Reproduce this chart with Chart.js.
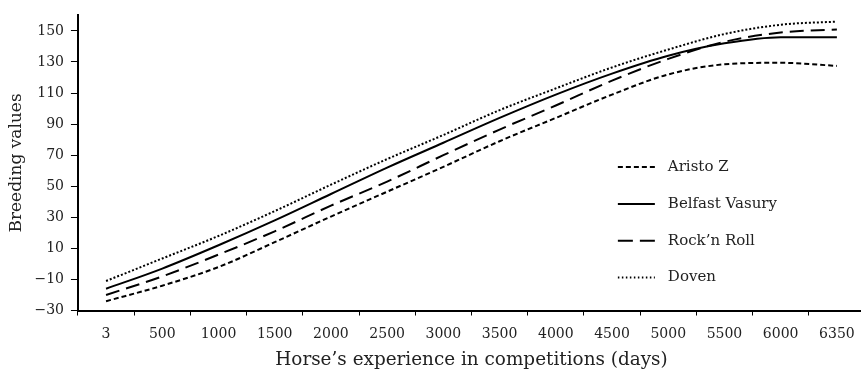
<!DOCTYPE html>
<html>
<head>
<meta charset="utf-8">
<script src="https://cdn.jsdelivr.net/npm/chart.js@4.4.0/dist/chart.umd.min.js"></script>
<style>
  html, body { margin: 0; padding: 0; background: #fff; overflow: hidden; }
</style>
</head>
<body>
<canvas id="breedingChart" width="866" height="372"></canvas>
<script>
// Horse's experience (days) on the x axis
const days = ['3', '500', '1000', '1500', '2000', '2500', '3000', '3500',
  '4000', '4500', '5000', '5500', '6000', '6350'];

// Breeding values per stallion
const aristoZ = [-24, -14, -2, 14, 30.5, 46.5, 62.5, 79, 94, 109, 122, 128.5, 129.5, 127.5];
const belfastVasury = [-16, -3, 12, 28, 45, 62, 78, 94, 109, 122.5, 134, 142, 146, 146];
const rocknRoll = [-20, -8, 6, 21, 37.5, 53, 70, 86.5, 102, 118, 132, 143, 149, 151];
const doven = [-11, 3.5, 18, 34, 51, 67.5, 83, 99, 113, 126.5, 138, 148, 154, 156];

const yTicks = [-30, -10, 10, 30, 50, 70, 90, 110, 130, 150];

const FONT = "'DejaVu Serif', serif";
const TEXT = '#222';

// Legend sits inside the plot, on the right, one row per series
const insideLegend = {
  id: 'insideLegend',
  afterDraw(chart) {
    const { ctx, chartArea } = chart;
    const w = chartArea.right - chartArea.left;
    const h = chartArea.bottom - chartArea.top;
    const x0 = chartArea.left + w * 0.686;
    const x1 = x0 + 37;
    ctx.save();
    ctx.font = '15px ' + FONT;
    ctx.fillStyle = TEXT;
    ctx.textBaseline = 'middle';
    chart.data.datasets.forEach((ds, i) => {
      const y = chartArea.top + h * 0.514 + i * 36.8;
      ctx.beginPath();
      ctx.setLineDash(ds.legendDash || ds.borderDash || []);
      ctx.lineWidth = ds.borderWidth;
      ctx.strokeStyle = ds.borderColor;
      ctx.moveTo(x0, y);
      ctx.lineTo(x1, y);
      ctx.stroke();
      ctx.setLineDash([]);
      ctx.fillText(ds.label, x1 + 13, y);
    });
    ctx.restore();
  }
};

const ctx = document.getElementById('breedingChart').getContext('2d');

const chart = new Chart(ctx, {
  type: 'line',
  data: {
    labels: days,
    datasets: [
      {
        label: 'Aristo Z',
        data: aristoZ,
        borderColor: '#000',
        borderWidth: 2,
        borderDash: [5, 3],
        legendDash: [5, 3],
        pointRadius: 0,
        cubicInterpolationMode: 'monotone',
        fill: false
      },
      {
        label: 'Belfast Vasury',
        data: belfastVasury,
        borderColor: '#000',
        borderWidth: 2,
        borderDash: [],
        pointRadius: 0,
        cubicInterpolationMode: 'monotone',
        fill: false
      },
      {
        label: 'Rock\u2019n Roll',
        data: rocknRoll,
        borderColor: '#000',
        borderWidth: 2,
        borderDash: [14, 7],
        legendDash: [15, 7],
        pointRadius: 0,
        cubicInterpolationMode: 'monotone',
        fill: false
      },
      {
        label: 'Doven',
        data: doven,
        borderColor: '#000',
        borderWidth: 2,
        borderDash: [2, 2],
        legendDash: [1.5, 2.5],
        pointRadius: 0,
        cubicInterpolationMode: 'monotone',
        fill: false
      }
    ]
  },
  options: {
    responsive: false,
    animation: false,
    devicePixelRatio: 1,
    layout: {
      padding: { left: 4, top: 11, right: 1, bottom: 0 }
    },
    plugins: {
      legend: { display: false },
      tooltip: { enabled: false }
    },
    scales: {
      x: {
        type: 'category',
        offset: true,
        grid: {
          offset: true,
          drawOnChartArea: false,
          drawTicks: true,
          tickLength: 5,
          color: '#000'
        },
        border: { color: '#000', width: 2 },
        ticks: {
          color: TEXT,
          autoSkip: false,
          maxRotation: 0,
          padding: 11,
          font: { family: FONT, size: 14, lineHeight: 1.1 }
        },
        title: {
          display: true,
          text: 'Horse\u2019s experience in competitions (days)',
          color: TEXT,
          padding: { top: -4, bottom: 1 },
          font: { family: FONT, size: 18.4 }
        }
      },
      y: {
        min: -30,
        max: 160,
        afterBuildTicks: axis => {
          axis.ticks = yTicks.map(v => ({ value: v }));
        },
        grid: {
          drawOnChartArea: false,
          drawTicks: true,
          tickLength: 7,
          color: '#000'
        },
        border: { color: '#000', width: 2 },
        ticks: {
          color: TEXT,
          padding: 7,
          font: { family: FONT, size: 14 },
          callback: v => (v < 0 ? '\u2212' + Math.abs(v) : String(v))
        },
        title: {
          display: true,
          text: 'Breeding values',
          color: TEXT,
          padding: { top: 2, bottom: 1 },
          font: { family: FONT, size: 17 }
        }
      }
    }
  },
  plugins: [insideLegend]
});
</script>
</body>
</html>
